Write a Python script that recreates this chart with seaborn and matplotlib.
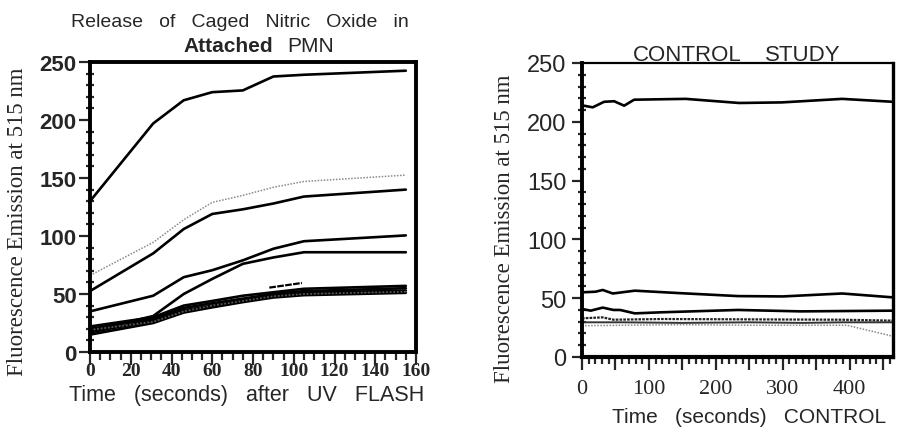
import matplotlib
matplotlib.use("Agg")
import matplotlib.pyplot as plt
import seaborn as sns
import pandas as pd
from matplotlib.ticker import MultipleLocator, FuncFormatter
from matplotlib import font_manager

# ---------------- data ----------------
# Left panel: release of caged NO in attached PMN (time after UV flash, s)
att_time = [0, 31, 46, 60, 75, 90, 105, 155]
att_s1 = [130, 197, 217, 224, 225.5, 237.5, 239, 242.5]
att_s2_dotted = [66, 94.5, 114, 129, 135, 142, 147, 152.5]
att_s3 = [52.5, 85, 106, 119, 123, 128, 134, 140]
att_s4 = [35, 48.5, 64.5, 70.5, 79, 89, 95.5, 100.5]
att_s5 = [18, 31, 50, 63, 76, 81.5, 86, 86]
att_b1 = [22, 30, 40, 44, 48.5, 51.5, 54.5, 57]
att_b2 = [20, 28.5, 38, 42, 46, 50, 52.5, 55]
att_b3 = [17, 27, 36, 40, 44.5, 48.5, 51, 53]
att_b4 = [15, 25, 34, 38.5, 43, 47, 49, 51]
att_b5_dotted = [19, 26, 35, 40, 44, 48, 50, 52]
att_seg_time = [88, 104]
att_seg = [55.5, 59.5]

# Right panel: control study
ctl_top_time = [0, 16, 33, 48, 63, 78, 155, 235, 299, 389, 465]
ctl_top = [214, 212.3, 217, 217.5, 213.7, 218.8, 219.5, 216, 216.5, 219.5, 217]
ctl_c2_time = [0, 20, 31, 46, 79, 143, 233, 300, 389, 465]
ctl_c2 = [55, 55.5, 57, 54, 56.4, 54.4, 51.8, 51.5, 54, 50.7]
ctl_c3_time = [0, 13, 31, 47, 57, 79, 118, 233, 327, 465]
ctl_c3 = [40.8, 39.4, 42, 40, 40, 37.1, 38, 40, 38.8, 39.4]
ctl_c4_time = [0, 31, 47, 120, 250, 389, 465]
ctl_c4 = [32.9, 33.7, 31.7, 32.3, 32, 31.7, 30.9]
ctl_c5_time = [0, 60, 150, 250, 330, 389, 465]
ctl_c5 = [29.5, 29.5, 29, 29.5, 29, 29.5, 29.5]
ctl_c6_time = [0, 60, 150, 250, 330, 396, 465]
ctl_c6 = [26.6, 27, 27.5, 27, 27, 27, 17.6]

left_xticks = [0, 20, 40, 60, 80, 100, 120, 140, 160]
right_xticks = [0, 100, 200, 300, 400]
yticks = [0, 50, 100, 150, 200, 250]

# ---------------- style ----------------
sns.set_style("ticks")
names = {f.name for f in font_manager.fontManager.ttflist}
NARROW = "Liberation Sans Narrow" if "Liberation Sans Narrow" in names else "Liberation Sans"
SANS = "Liberation Sans"
SERIF = "Liberation Serif"
plt.rcParams["font.family"] = [SANS, "DejaVu Sans"]

W, H = 902, 431
fig = plt.figure(figsize=(W / 100, H / 100), dpi=100)


def ax_rect(x0, y0, x1, y1):
    return [x0 / W, 1 - y1 / H, (x1 - x0) / W, (y1 - y0) / H]


ax1 = fig.add_axes(ax_rect(90, 63, 416, 353))
ax2 = fig.add_axes(ax_rect(582, 64, 893, 358))

SOLID = dict(color="black", lw=1.9)
DOTTED = dict(color="#8a8a8a", lw=1.1, linestyle=(0, (1, 1)))

# left panel lines
for ys in [att_s1, att_s3, att_s4, att_s5, att_b1, att_b2, att_b3, att_b4]:
    sns.lineplot(x=att_time, y=ys, ax=ax1, estimator=None, sort=False, **SOLID)
sns.lineplot(x=att_time, y=att_s2_dotted, ax=ax1, estimator=None, sort=False, **DOTTED)
sns.lineplot(x=att_time, y=att_b5_dotted, ax=ax1, estimator=None, sort=False,
             color="#555555", lw=1.3, linestyle=(0, (1, 1)))
sns.lineplot(x=att_seg_time, y=att_seg, ax=ax1, estimator=None, sort=False,
             color="black", lw=1.6, linestyle=(0, (3, 0.6)))

# right panel lines
for xs, ys in [(ctl_top_time, ctl_top), (ctl_c2_time, ctl_c2), (ctl_c3_time, ctl_c3)]:
    sns.lineplot(x=xs, y=ys, ax=ax2, estimator=None, sort=False, **SOLID)
sns.lineplot(x=ctl_c4_time, y=ctl_c4, ax=ax2, estimator=None, sort=False,
             color="#222222", lw=1.6, linestyle=(0, (1.2, 0.5)))
sns.lineplot(x=ctl_c5_time, y=ctl_c5, ax=ax2, estimator=None, sort=False,
             color="#333333", lw=1.4)
sns.lineplot(x=ctl_c6_time, y=ctl_c6, ax=ax2, estimator=None, sort=False, **DOTTED)

# ---------------- axes styling ----------------
for ax in (ax1, ax2):
    ax.set_ylim(0, 250)
    ax.set_xlabel("")
    ax.set_ylabel("")
    ax.grid(False)

ax1.set_xlim(0, 160)
ax2.set_xlim(0, 465)

for sp in ax1.spines.values():
    sp.set_visible(True)
    sp.set_linewidth(2.8)
    sp.set_color("black")
for name, lw in [("left", 2.8), ("bottom", 3.0), ("top", 1.6), ("right", 2.4)]:
    ax2.spines[name].set_visible(True)
    ax2.spines[name].set_linewidth(lw)
    ax2.spines[name].set_color("black")

# left ticks
ax1.yaxis.set_major_locator(MultipleLocator(50))
ax1.yaxis.set_minor_locator(MultipleLocator(10))
ax1.xaxis.set_major_locator(MultipleLocator(20))
ax1.xaxis.set_minor_locator(MultipleLocator(5))
ax1.set_yticks(yticks)
ax1.set_xticks(left_xticks)
ax1.tick_params(axis="y", which="major", direction="out", length=8, width=1.6, pad=1.5)
ax1.tick_params(axis="y", which="minor", direction="inout", length=6, width=1.6)
ax1.tick_params(axis="x", which="major", direction="out", length=9, width=1.6, pad=-2)
ax1.tick_params(axis="x", which="minor", direction="out", length=5.5, width=1.6)
for lab in ax1.get_yticklabels():
    lab.set_fontfamily([SANS, "DejaVu Sans"])
    lab.set_fontweight("bold")
    lab.set_fontsize(16)
for lab in ax1.get_xticklabels():
    lab.set_fontfamily([SERIF, "DejaVu Serif"])
    lab.set_fontweight("bold")
    lab.set_fontsize(14)

# right ticks
ax2.set_yticks(yticks)
ax2.yaxis.set_minor_locator(MultipleLocator(10))
ax2.xaxis.set_major_locator(MultipleLocator(50))
ax2.xaxis.set_minor_locator(MultipleLocator(10))
ax2.xaxis.set_major_formatter(FuncFormatter(lambda v, p: f"{int(v)}" if int(v) in right_xticks else ""))
ax2.tick_params(axis="y", which="major", direction="out", length=7.5, width=1.6, pad=3.5)
ax2.tick_params(axis="y", which="minor", direction="inout", length=6, width=1.6)
ax2.tick_params(axis="x", which="major", direction="out", length=9, width=1.6, pad=7)
ax2.tick_params(axis="x", which="minor", direction="out", length=5, width=1.6)
for lab in ax2.get_yticklabels():
    lab.set_fontfamily([SANS, "DejaVu Sans"])
    lab.set_fontsize(17)
for lab in ax2.get_xticklabels():
    lab.set_fontfamily([SERIF, "DejaVu Serif"])
    lab.set_fontsize(16)

# ---------------- texts ----------------
def fx(px):
    return px / W


def fy(py):
    return 1 - py / H


fig.text(fx(240), fy(27), "Release   of   Caged   Nitric   Oxide   in", ha="center",
         va="baseline", fontsize=14, family=[SANS, "DejaVu Sans"])
fig.text(fx(183), fy(52), "Attached", ha="left", va="baseline", fontsize=15,
         fontweight="bold", family=[SANS, "DejaVu Sans"])
fig.text(fx(287), fy(52), "PMN", ha="left", va="baseline", fontsize=15,
         family=[SANS, "DejaVu Sans"])

fig.text(fx(633), fy(61), "CONTROL", ha="left", va="baseline", fontsize=16,
         family=[NARROW, SANS])
fig.text(fx(765), fy(61), "STUDY", ha="left", va="baseline", fontsize=16,
         family=[NARROW, SANS])

fig.text(fx(247), fy(401), "Time   (seconds)   after   UV   FLASH", ha="center",
         va="baseline", fontsize=15.5, family=[NARROW, SANS])
fig.text(fx(749), fy(423), "Time   (seconds)   CONTROL", ha="center",
         va="baseline", fontsize=15, family=[NARROW, SANS])

fig.text(fx(18), fy(222), "Fluorescence Emission at 515 nm", rotation=90, ha="center",
         va="center", fontsize=16.5, family=[SERIF, "DejaVu Serif"])
fig.text(fx(505), fy(229), "Fluorescence Emission at 515 nm", rotation=90, ha="center",
         va="center", fontsize=16.5, family=[SERIF, "DejaVu Serif"])

fig.savefig("out.png", dpi=100)
